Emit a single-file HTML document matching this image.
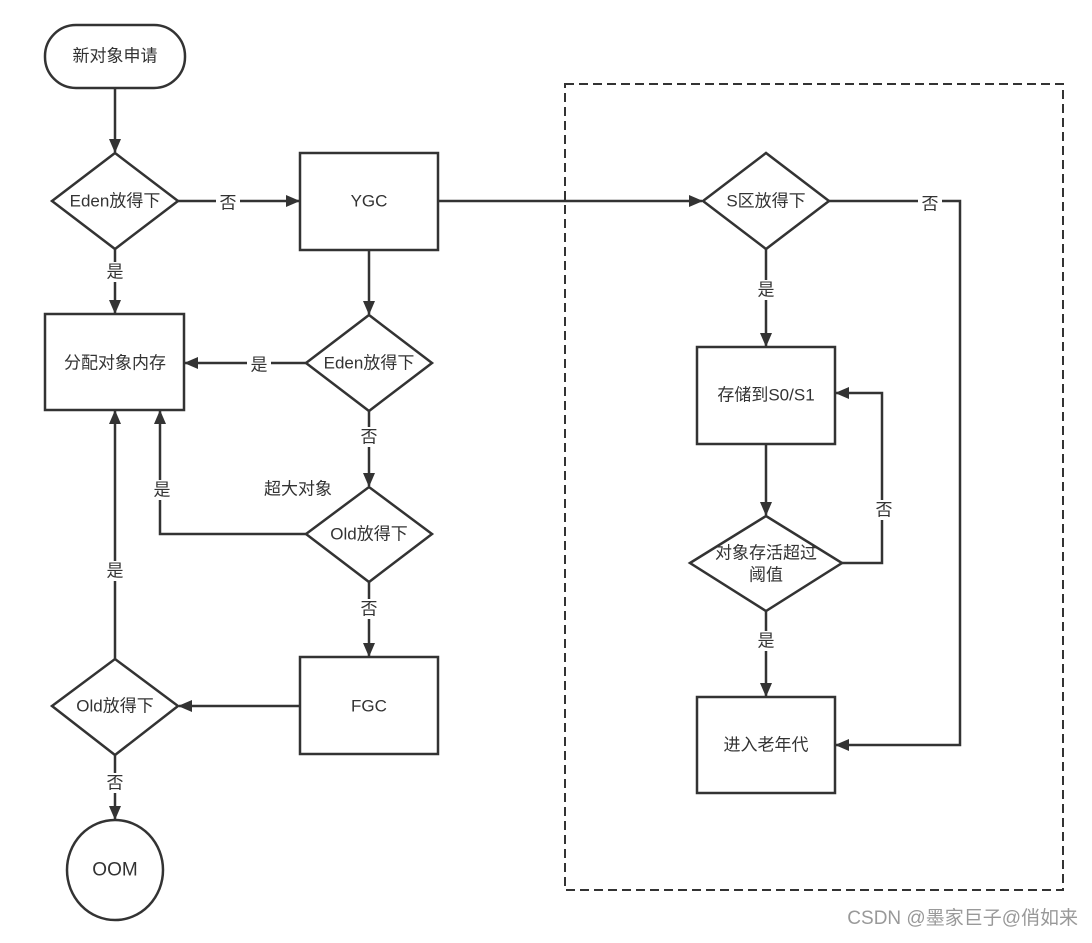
<!DOCTYPE html>
<html><head><meta charset="utf-8"><style>
html,body{margin:0;padding:0;background:#fff;}
text{font-family:"Liberation Sans","Noto Sans CJK SC",sans-serif;font-size:17px;fill:#333;}
</style></head><body>
<svg width="1092" height="938" viewBox="0 0 1092 938" xmlns="http://www.w3.org/2000/svg">
<defs><marker id="a" markerWidth="14" markerHeight="12" refX="13" refY="6" orient="auto" markerUnits="userSpaceOnUse"><path d="M0,0 L14,6 L0,12 Z" fill="#333"/></marker></defs>
<g fill="none" stroke="#333" stroke-width="2.5">
<rect x="565" y="84" width="498" height="806" stroke-dasharray="9,5" stroke-width="2"/>
<rect x="45" y="25" width="140" height="63" rx="31"/>
<polygon points="52,201 115,153 178,201 115,249"/>
<rect x="300" y="153" width="138" height="97"/>
<rect x="45" y="314" width="139" height="96"/>
<polygon points="306,363 369,315 432,363 369,411"/>
<polygon points="306,534 369,487 432,534 369,582"/>
<rect x="300" y="657" width="138" height="97"/>
<polygon points="52,706 115,659 178,706 115,755"/>
<ellipse cx="115" cy="870" rx="48" ry="50"/>
<polygon points="703,201 766,153 829,201 766,249"/>
<rect x="697" y="347" width="138" height="97"/>
<polygon points="690,563 766,516 842,563 766,611"/>
<rect x="697" y="697" width="138" height="96"/>
</g>
<g fill="none" stroke="#333" stroke-width="2.5" marker-end="url(#a)">
<path d="M115,88 V152"/>
<path d="M178,201 H299"/>
<path d="M115,249 V313"/>
<path d="M438,201 H702"/>
<path d="M369,250 V314"/>
<path d="M306,363 H185"/>
<path d="M369,411 V486"/>
<path d="M306,534 H160 V411"/>
<path d="M369,582 V656"/>
<path d="M300,706 H179"/>
<path d="M115,659 V411"/>
<path d="M115,755 V819"/>
<path d="M766,249 V346"/>
<path d="M829,201 H960 V745 H836"/>
<path d="M766,444 V515"/>
<path d="M842,563 H882 V393 H836"/>
<path d="M766,611 V696"/>
</g>
<g text-anchor="middle" dominant-baseline="central">
<text x="115" y="56">新对象申请</text>
<text x="115" y="201">Eden放得下</text>
<text x="369" y="201">YGC</text>
<text x="115" y="363">分配对象内存</text>
<text x="369" y="363">Eden放得下</text>
<text x="369" y="534">Old放得下</text>
<text x="369" y="706">FGC</text>
<text x="115" y="706">Old放得下</text>
<text x="115" y="870" style="font-size:19px">OOM</text>
<text x="766" y="201">S区放得下</text>
<text x="766" y="395">存储到S0/S1</text>
<text x="766" y="553">对象存活超过</text>
<text x="766" y="575">阈值</text>
<text x="766" y="745">进入老年代</text>
</g>
<g text-anchor="middle" dominant-baseline="central">
<rect x="216" y="192" width="24" height="20" fill="#fff"/><text x="228" y="203">否</text>
<rect x="103" y="262" width="24" height="20" fill="#fff"/><text x="115" y="272">是</text>
<rect x="247" y="354" width="24" height="20" fill="#fff"/><text x="259" y="365">是</text>
<rect x="357" y="427" width="24" height="20" fill="#fff"/><text x="369" y="437">否</text>
<text x="298" y="489">超大对象</text>
<rect x="150" y="480" width="24" height="20" fill="#fff"/><text x="162" y="490">是</text>
<rect x="357" y="599" width="24" height="20" fill="#fff"/><text x="369" y="609">否</text>
<rect x="103" y="561" width="24" height="20" fill="#fff"/><text x="115" y="571">是</text>
<rect x="103" y="773" width="24" height="20" fill="#fff"/><text x="115" y="783">否</text>
<rect x="754" y="280" width="24" height="20" fill="#fff"/><text x="766" y="290">是</text>
<rect x="918" y="194" width="24" height="20" fill="#fff"/><text x="930" y="204">否</text>
<rect x="872" y="500" width="24" height="20" fill="#fff"/><text x="884" y="510">否</text>
<rect x="754" y="631" width="24" height="20" fill="#fff"/><text x="766" y="641">是</text>
</g>
<text x="1078" y="924" text-anchor="end" style="font-size:19px;fill:#999">CSDN @墨家巨子@俏如来</text>
</svg>
</body></html>
